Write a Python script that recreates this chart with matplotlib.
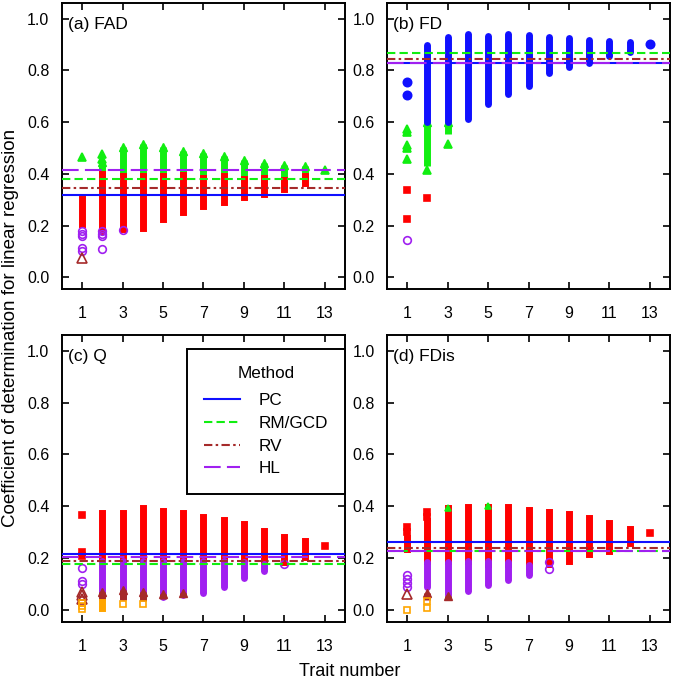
import numpy as np
import matplotlib
matplotlib.use("Agg")
import matplotlib.pyplot as plt
from matplotlib.lines import Line2D

plt.rcParams["font.family"] = ["Liberation Sans", "DejaVu Sans"]

n = np.nan
traits = np.arange(1, 14)
methods = ["PC", "RM/GCD", "RV", "HL"]

# reference lines per panel, order PC, RM/GCD, RV, HL
fad_ref = [0.320, 0.380, 0.345, 0.414]
fd_ref = [0.830, 0.866, 0.843, 0.829]
q_ref = [0.217, 0.179, 0.189, 0.207]
fdis_ref = [0.262, 0.228, 0.238, 0.230]

# (a) FAD
fad_green_lo = [n, 0.40, 0.39, 0.39, 0.39, 0.39, 0.38, 0.38, 0.37, 0.36, 0.35, 0.38, n]
fad_green_hi = [n, 0.445, 0.503, 0.516, 0.503, 0.49, 0.48, 0.468, 0.454, 0.441, 0.436, 0.43, n]
fad_green_px = [1, 2, 2, 13]
fad_green_py = [0.465, 0.458, 0.477, 0.413]
fad_red_lo = [0.207, 0.18, 0.188, 0.19, 0.227, 0.252, 0.274, 0.293, 0.31, 0.323, 0.341, 0.364, n]
fad_red_hi = [0.304, 0.398, 0.39, 0.39, 0.39, 0.395, 0.385, 0.39, 0.38, 0.385, 0.375, 0.39, n]
fad_purple_px = [1, 1, 1, 1, 1, 2, 2, 2, 2, 3]
fad_purple_py = [0.178, 0.167, 0.160, 0.115, 0.100, 0.178, 0.167, 0.160, 0.109, 0.184]
fad_brown_px = [1]
fad_brown_py = [0.073]

# (b) FD
fd_blue_lo = [n, 0.60, 0.60, 0.613, 0.67, 0.709, 0.741, 0.789, 0.812, 0.827, 0.857, 0.870, n]
fd_blue_hi = [n, 0.896, 0.928, 0.941, 0.934, 0.94, 0.935, 0.928, 0.925, 0.918, 0.915, 0.91, n]
fd_blue_px = [1, 1, 13]
fd_blue_py = [0.754, 0.703, 0.902]
fd_green_lo = [n, 0.43, 0.555, n, n, n, n, n, n, n, n, n, n]
fd_green_hi = [n, 0.60, 0.60, n, n, n, n, n, n, n, n, n, n]
fd_green_px = [1, 1, 1, 1, 1, 2, 3]
fd_green_py = [0.575, 0.56, 0.512, 0.50, 0.458, 0.413, 0.515]
fd_red_px = [1, 1, 2]
fd_red_py = [0.339, 0.227, 0.308]
fd_purple_px = [1]
fd_purple_py = [0.146]

# (c) Q
q_red_lo = [n, 0.20, 0.19, 0.19, 0.19, 0.19, 0.19, 0.19, 0.19, 0.19, 0.187, 0.207, n]
q_red_hi = [n, 0.375, 0.375, 0.392, 0.383, 0.375, 0.36, 0.349, 0.331, 0.305, 0.282, 0.266, n]
q_red_px = [1, 1, 1, 13]
q_red_py = [0.366, 0.224, 0.21, 0.248]
q_purple_lo = [n, 0.06, 0.05, 0.05, 0.05, 0.06, 0.065, 0.088, 0.124, 0.152, n, n, n]
q_purple_hi = [n, 0.19, 0.19, 0.19, 0.19, 0.19, 0.19, 0.19, 0.185, 0.18, n, n, n]
q_purple_px = [1, 1, 1, 11]
q_purple_py = [0.162, 0.114, 0.10, 0.178]
q_brown_lo = [n, 0.04, 0.038, 0.034, 0.045, 0.054, n, n, n, n, n, n, n]
q_brown_hi = [n, 0.072, 0.078, 0.07, 0.062, 0.066, n, n, n, n, n, n, n]
q_brown_px = [1, 1, 1]
q_brown_py = [0.072, 0.058, 0.044]
q_orange_lo = [n, 0.01, n, n, n, n, n, n, n, n, n, n, n]
q_orange_hi = [n, 0.032, n, n, n, n, n, n, n, n, n, n, n]
q_orange_px = [1, 1, 1, 3, 4]
q_orange_py = [0.03, 0.018, 0.005, 0.024, 0.026]

# (d) FDis
fdis_red_lo = [0.235, 0.19, 0.19, 0.19, 0.18, 0.179, 0.172, 0.18, 0.189, 0.215, 0.23, 0.258, n]
fdis_red_hi = [0.28, 0.345, 0.392, 0.398, 0.398, 0.398, 0.388, 0.379, 0.37, 0.357, 0.337, 0.314, n]
fdis_red_px = [1, 1, 2, 2, 13]
fdis_red_py = [0.32, 0.30, 0.379, 0.36, 0.296]
fdis_green_px = [3, 5]
fdis_green_py = [0.395, 0.40]
fdis_purple_lo = [n, 0.088, 0.06, 0.075, 0.096, 0.115, 0.135, n, n, n, n, n, n]
fdis_purple_hi = [n, 0.185, 0.185, 0.19, 0.19, 0.185, 0.175, n, n, n, n, n, n]
fdis_purple_px = [1, 1, 1, 1, 8, 8]
fdis_purple_py = [0.135, 0.12, 0.105, 0.09, 0.185, 0.16]
fdis_brown_lo = [n, 0.038, 0.045, n, n, n, n, n, n, n, n, n, n]
fdis_brown_hi = [n, 0.068, 0.055, n, n, n, n, n, n, n, n, n, n]
fdis_brown_px = [1]
fdis_brown_py = [0.062]
fdis_orange_px = [1, 2, 2]
fdis_orange_py = [0.0, 0.036, 0.008]

BLUE = "#1010ff"
GREEN = "#11ee11"
RED = "#ff0000"
PURPLE = "#a020f0"
BROWN = "#a52a2a"
ORANGE = "#ffa500"
line_colors = [BLUE, GREEN, BROWN, PURPLE]
line_dashes = [None, (4, 2), (4, 1.6, 1.2, 1.6), (8, 3)]

COLW = 5.0
TRI = 5.5


def columns(ax, lo, hi, color, cap, marker=None, z=2):
    for x, a, b in zip(traits, lo, hi):
        if np.isnan(a):
            continue
        ax.plot([x, x], [a, b], color=color, lw=COLW, solid_capstyle=cap, zorder=z)
        if marker == "^":
            ax.plot([x], [b], marker="^", ms=TRI + 0.5, color=color, ls="none", zorder=z)


def points(ax, px, py, color, marker, open_=False, ms=5.5, z=3):
    ax.plot(px, py, marker=marker, ls="none", ms=ms, mec=color,
            mfc="none" if open_ else color, mew=1.2, zorder=z)


def ref_lines(ax, vals):
    for v, c, d in zip(vals, line_colors, line_dashes):
        ln = ax.axhline(v, color=c, lw=1.5, zorder=5)
        if d is not None:
            ln.set_dashes(d)


fig = plt.figure(figsize=(6.75, 6.8), dpi=100)
w, h = 283 / 675, 286 / 680
ax_a = fig.add_axes([62 / 675, 1 - 289 / 680, w, h])
ax_b = fig.add_axes([387 / 675, 1 - 289 / 680, w, h])
ax_c = fig.add_axes([62 / 675, 1 - 622 / 680, w, 287 / 680])
ax_d = fig.add_axes([387 / 675, 1 - 622 / 680, w, 287 / 680])

# (a)
columns(ax_a, fad_green_lo, fad_green_hi, GREEN, "butt", marker="^")
points(ax_a, fad_green_px, fad_green_py, GREEN, "^", ms=TRI)
columns(ax_a, fad_red_lo, fad_red_hi, RED, "projecting", z=3)
points(ax_a, fad_purple_px, fad_purple_py, PURPLE, "o", open_=True)
points(ax_a, fad_brown_px, fad_brown_py, BROWN, "^", open_=True, ms=6.5)
ref_lines(ax_a, fad_ref)

# (b)
columns(ax_b, fd_green_lo, fd_green_hi, GREEN, "butt", marker="^")
points(ax_b, fd_green_px, fd_green_py, GREEN, "^", ms=TRI)
columns(ax_b, fd_blue_lo, fd_blue_hi, BLUE, "round", z=3)
points(ax_b, fd_blue_px, fd_blue_py, BLUE, "o", ms=6)
points(ax_b, fd_red_px, fd_red_py, RED, "s", ms=5)
points(ax_b, fd_purple_px, fd_purple_py, PURPLE, "o", open_=True)
ref_lines(ax_b, fd_ref)

# (c)
columns(ax_c, q_red_lo, q_red_hi, RED, "projecting")
points(ax_c, q_red_px, q_red_py, RED, "s", ms=5)
columns(ax_c, q_purple_lo, q_purple_hi, PURPLE, "round", z=3)
points(ax_c, q_purple_px, q_purple_py, PURPLE, "o", open_=True)
columns(ax_c, q_brown_lo, q_brown_hi, BROWN, "butt", marker="^", z=4)
points(ax_c, q_brown_px, q_brown_py, BROWN, "^", open_=True, ms=6.5, z=4)
columns(ax_c, q_orange_lo, q_orange_hi, ORANGE, "projecting", z=4)
points(ax_c, q_orange_px, q_orange_py, ORANGE, "s", open_=True, ms=5, z=4)
ref_lines(ax_c, q_ref)

# (d)
columns(ax_d, fdis_red_lo, fdis_red_hi, RED, "projecting")
points(ax_d, fdis_red_px, fdis_red_py, RED, "s", ms=5)
points(ax_d, fdis_green_px, fdis_green_py, GREEN, "^", ms=5)
columns(ax_d, fdis_purple_lo, fdis_purple_hi, PURPLE, "round", z=3)
points(ax_d, fdis_purple_px, fdis_purple_py, PURPLE, "o", open_=True)
columns(ax_d, fdis_brown_lo, fdis_brown_hi, BROWN, "butt", marker="^", z=4)
points(ax_d, fdis_brown_px, fdis_brown_py, BROWN, "^", open_=True, ms=6.5, z=4)
points(ax_d, fdis_orange_px, fdis_orange_py, ORANGE, "s", open_=True, ms=5, z=4)
ref_lines(ax_d, fdis_ref)

for ax, lab in zip([ax_a, ax_b, ax_c, ax_d], ["(a) FAD", "(b) FD", "(c) Q", "(d) FDis"]):
    ax.set_xlim(0, 14)
    ax.set_ylim(-0.045, 1.06)
    ax.set_xticks(np.arange(1, 14, 2))
    ax.set_yticks(np.arange(0, 1.01, 0.2))
    ax.set_yticklabels([f"{v:.1f}" for v in np.arange(0, 1.01, 0.2)])
    ax.tick_params(direction="in", top=True, right=True, length=5, width=1.2,
                   labelsize=11.5, colors="black")
    ax.tick_params(axis="x", pad=12)
    ax.tick_params(axis="y", pad=9)
    for s in ax.spines.values():
        s.set_linewidth(1.4)
    ax.text(0.02, 0.95, lab, transform=ax.transAxes, ha="left", va="top", fontsize=12.5)

handles = []
for c, d in zip(line_colors, line_dashes):
    ln = Line2D([0], [0], color=c, lw=1.5)
    if d is not None:
        ln.set_dashes(d)
    handles.append(ln)
leg = ax_c.legend(handles, methods, title="Method", loc="upper right",
                  bbox_to_anchor=(1.0, 0.952), fontsize=12.3, title_fontsize=12.3,
                  frameon=True, fancybox=False, edgecolor="black",
                  handlelength=2.1, handletextpad=1.1, labelspacing=0.45,
                  borderpad=1.0, borderaxespad=0.0)
leg.get_frame().set_linewidth(1.4)
leg.get_frame().set_alpha(1)
leg._legend_box.sep = 9
leg.set_zorder(10)

fig.text(0.015, 1 - 328 / 680, "Coefficient of determination for linear regression",
         rotation=90, ha="center", va="center", fontsize=13.5)
fig.text(350 / 675, 0.013, "Trait number", ha="center", va="center", fontsize=13)

fig.savefig("out.png", dpi=100)
